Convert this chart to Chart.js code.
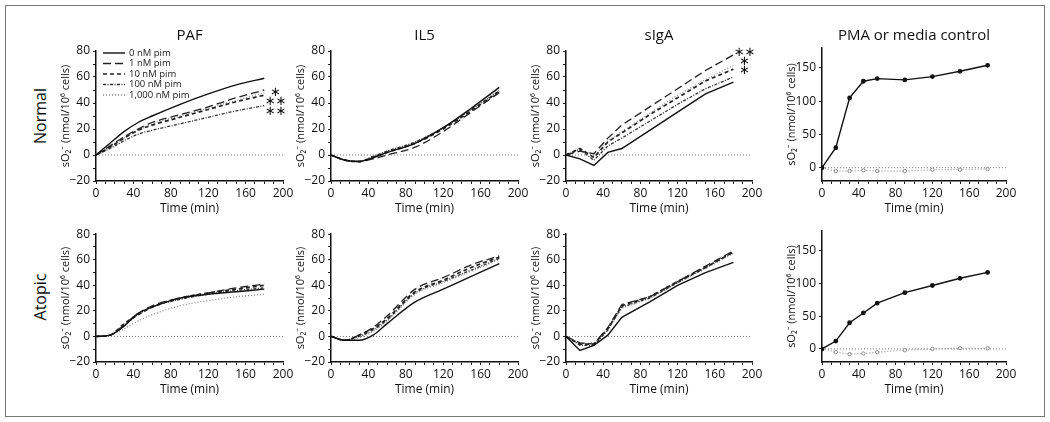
<!DOCTYPE html>
<html>
<head>
<meta charset="utf-8">
<script src="https://cdn.jsdelivr.net/npm/chart.js@4/dist/chart.umd.min.js"></script>
<style>
  html, body { margin: 0; padding: 0; background: #fff; }
  #fig { position: relative; width: 1050px; height: 422px; overflow: hidden; }
  #frame { position: absolute; left: 5px; top: 5px; width: 1040px; height: 412px; border: 1px solid #777; box-sizing: border-box; }
  canvas { position: absolute; }
  .rowlabel { position: absolute; font: 16px 'Open Sans', 'Noto Sans', sans-serif; color: #111;
    transform: translate(-50%, -50%) rotate(-90deg); white-space: nowrap; }
</style>
</head>
<body>
<div id="fig">
  <div id="frame"></div>
  <div class="rowlabel" style="left:40px; top:116px">Normal</div>
  <div class="rowlabel" style="left:40px; top:297px">Atopic</div>
</div>
<script>
// time points (min) shared by every panel
const times = [0, 15, 30, 45, 60, 90, 120, 150, 180];
const doseLabels = ["0 nM pim", "1 nM pim", "10 nM pim", "100 nM pim", "1,000 nM pim"];
const columnTitles = ["PAF", "IL5", "sIgA", "PMA or media control"];

// sO2- (nmol/10^6 cells), one row per dose: 0, 1, 10, 100, 1000 nM
const pafNormal = [
  [0, 9, 18, 25, 30, 39, 47, 54, 59],
  [0, 7, 14, 20, 25, 31, 37, 44, 50],
  [0, 6, 13, 19, 23, 29, 35, 41, 46],
  [0, 5, 11, 16, 19, 24, 29, 34, 38],
  [0, 6, 13, 19, 24, 30, 36, 42, 48]
];
const pafAtopic = [
  [0, 1, 8, 18, 23, 30, 33, 35, 37],
  [0, 1, 9, 18, 24, 30, 34, 38, 41],
  [0, 1, 10, 17, 23, 30, 34, 37, 40],
  [0, 1, 9, 17, 23, 29, 33, 36, 38],
  [0, 1, 6, 12, 17, 24, 28, 31, 33]
];
const il5Normal = [
  [0, -4, -5, -2, 2, 9, 21, 36, 52],
  [0, -4, -5, -3, 0, 6, 18, 33, 48],
  [0, -4, -5, -2, 2, 9, 20, 34, 49],
  [0, -4, -5, -1, 3, 10, 21, 35, 49],
  [0, -4, -5, -1, 3, 10, 21, 35, 50]
];
const il5Atopic = [
  [0, -3, -3, 1, 10, 27, 37, 47, 57],
  [0, -3, 1, 7, 16, 37, 46, 56, 63],
  [0, -3, 1, 6, 14, 35, 44, 54, 62],
  [0, -3, 0, 5, 13, 34, 43, 52, 61],
  [0, -3, -1, 4, 12, 33, 42, 51, 60]
];
const sigaNormal = [
  [0, -3, -8, 2, 5, 19, 33, 47, 56],
  [0, 3, 1, 13, 23, 37, 51, 65, 77],
  [0, 5, -2, 10, 17, 31, 44, 57, 66],
  [0, 4, -4, 7, 13, 26, 39, 51, 60],
  [0, 5, -1, 11, 18, 32, 46, 58, 69]
];
const sigaAtopic = [
  [0, -11, -7, 1, 15, 27, 40, 50, 58],
  [0, -5, -6, 7, 25, 31, 43, 55, 67],
  [0, -6, -6, 6, 24, 31, 43, 54, 66],
  [0, -7, -7, 5, 23, 30, 42, 54, 66],
  [0, -6, -5, 6, 22, 30, 42, 53, 65]
];
const pmaNormal = [0, 30, 105, 130, 134, 132, 137, 145, 154];
const mediaNormal = [0, -5, -5, -4, -5, -5, -3, -3, -2];
const pmaAtopic = [0, 12, 40, 55, 70, 86, 97, 108, 117];
const mediaAtopic = [0, -5, -8, -7, -5, -2, 0, 1, 1];

// significance marks (value on y axis)
const pafNormalStars = [{ text: "∗", y: 48 }, { text: "∗∗", y: 41 }, { text: "∗∗", y: 33 }];
const sigaNormalStars = [{ text: "∗∗", y: 79 }, { text: "∗", y: 72 }, { text: "∗", y: 65 }];

Chart.defaults.font.family = "'Open Sans', 'Noto Sans', sans-serif";
Chart.defaults.font.size = 12;
Chart.defaults.color = "#111";
Chart.defaults.animation = false;

const doseStyles = [
  { color: "#111", width: 1.4, dash: [] },
  { color: "#222", width: 1.3, dash: [8, 4] },
  { color: "#222", width: 1.7, dash: [4, 3] },
  { color: "#333", width: 1.3, dash: [3, 1.5, 1, 1.5] },
  { color: "#888", width: 1.3, dash: [1, 2] }
];

// layout of the 2 x 4 grid
const colAxisX = [96, 331, 566, 822];
const colPlotW = [187, 187, 186, 184];
const rowPlotTop = [51, 232];
const leftW = 41, rightPad = 14, bottomH = 39;

const toPoints = vals => vals.map((v, i) => ({ x: times[i], y: v }));
const minus = v => String(v).replace("-", "\u2212");

const zeroLine = {
  id: "zeroLine",
  beforeDatasetsDraw(chart) {
    const { ctx, chartArea: a, scales: { y } } = chart;
    const py = y.getPixelForValue(0);
    ctx.save();
    ctx.strokeStyle = "#777";
    ctx.lineWidth = 1;
    ctx.setLineDash([1, 2]);
    ctx.beginPath();
    ctx.moveTo(a.left, py);
    ctx.lineTo(a.right, py);
    ctx.stroke();
    ctx.restore();
  }
};

const doseLegend = {
  id: "doseLegend",
  afterDatasetsDraw(chart, args, opts) {
    if (!opts.show) return;
    const { ctx, chartArea: a } = chart;
    ctx.save();
    ctx.font = "9.5px 'Open Sans', 'Noto Sans', sans-serif";
    ctx.fillStyle = "#222";
    ctx.textBaseline = "middle";
    chart.data.datasets.forEach((ds, i) => {
      const y = a.top + 2 + i * 10.5;
      ctx.strokeStyle = ds.borderColor;
      ctx.lineWidth = ds.borderWidth;
      ctx.setLineDash(ds.borderDash);
      ctx.beginPath();
      ctx.moveTo(a.left + 7, y);
      ctx.lineTo(a.left + 29, y);
      ctx.stroke();
      ctx.fillText(ds.label, a.left + 33, y);
    });
    ctx.restore();
  }
};

const stars = {
  id: "stars",
  afterDatasetsDraw(chart, args, opts) {
    if (!opts.items) return;
    const { ctx, scales: { x, y } } = chart;
    ctx.save();
    ctx.font = "13px 'DejaVu Sans', sans-serif";
    ctx.fillStyle = "#111";
    ctx.textAlign = "center";
    ctx.textBaseline = "middle";
    opts.items.forEach(s => ctx.fillText(s.text, x.getPixelForValue(192), y.getPixelForValue(s.y)));
    ctx.restore();
  }
};

function doseDatasets(rows, smooth) {
  return rows.map((vals, i) => ({
    label: doseLabels[i],
    data: toPoints(vals),
    borderColor: doseStyles[i].color,
    borderWidth: doseStyles[i].width,
    borderDash: doseStyles[i].dash,
    pointRadius: 0,
    cubicInterpolationMode: smooth ? "monotone" : "default",
    tension: 0
  }));
}

function pmaDatasets(pma, media) {
  return [
    { label: "PMA", data: toPoints(pma), borderColor: "#111", borderWidth: 1.4, borderDash: [],
      pointRadius: 1.7, pointBackgroundColor: "#111", pointBorderColor: "#111", tension: 0 },
    { label: "Media control", data: toPoints(media), borderColor: "#999", borderWidth: 1.2, borderDash: [1, 2],
      pointRadius: 1.7, pointBackgroundColor: "#fff", pointBorderColor: "#888", pointBorderWidth: 1, tension: 0 }
  ];
}

function makePanel(row, col, datasets, extra) {
  const isPma = col === 3;
  const plotH = isPma ? 133 : 130;
  const plotTop = rowPlotTop[row] - (isPma ? 3 : 0);
  const hasTitle = row === 0;
  const titlePadBottom = isPma ? 3 : 6;
  const topSpace = hasTitle ? 18 + titlePadBottom : 8;
  const w = leftW + colPlotW[col] + rightPad;
  const h = topSpace + plotH + bottomH;

  const canvas = document.createElement("canvas");
  canvas.width = w;
  canvas.height = h;
  canvas.style.left = (colAxisX[col] - leftW) + "px";
  canvas.style.top = (plotTop - topSpace) + "px";
  canvas.style.width = w + "px";
  canvas.style.height = h + "px";
  document.getElementById("fig").appendChild(canvas);

  const yTicks = isPma
    ? { callback: v => minus(v), padding: 3 }
    : { stepSize: 10, autoSkip: false, callback: v => (v % 20 === 0 ? minus(v) : ""), padding: 3 };

  new Chart(canvas.getContext("2d"), {
    type: "line",
    data: { datasets },
    options: {
      responsive: false,
      layout: { padding: { top: hasTitle ? 0 : 8, right: rightPad, left: 0, bottom: 0 } },
      plugins: {
        legend: { display: false },
        tooltip: { enabled: false },
        title: {
          display: hasTitle,
          text: columnTitles[col],
          fullSize: false,
          font: { size: 15, weight: "normal" },
          color: "#111",
          padding: { top: 0, bottom: titlePadBottom }
        },
        doseLegend: { show: !!(extra && extra.legend) },
        stars: { items: extra && extra.stars }
      },
      scales: {
        x: {
          type: "linear",
          min: 0,
          max: 200,
          afterFit: s => { s.height = bottomH; },
          ticks: { stepSize: 10, autoSkip: false, maxRotation: 0, padding: 2,
            callback: v => (v % 40 === 0 ? v : "") },
          grid: { drawOnChartArea: false, tickLength: 3, color: "#222" },
          border: { color: "#111", width: 1.5 },
          title: { display: true, text: "Time (min)", font: { size: 12 }, padding: { top: 0, bottom: 4 } }
        },
        y: {
          min: -20,
          max: isPma ? 180 : 80,
          afterFit: s => { s.width = leftW; },
          afterBuildTicks: isPma ? s => { s.ticks = [0, 50, 100, 150].map(v => ({ value: v })); } : undefined,
          ticks: yTicks,
          grid: { drawOnChartArea: false, tickLength: 3, color: "#222" },
          border: { color: "#111", width: 1.5 },
          title: { display: true, text: "sO\u2082\u207B (nmol/10\u2076 cells)", font: { size: 11 },
            padding: { top: 4, bottom: 0 } }
        }
      }
    },
    plugins: [zeroLine, doseLegend, stars]
  });
}

makePanel(0, 0, doseDatasets(pafNormal, true), { legend: true, stars: pafNormalStars });
makePanel(0, 1, doseDatasets(il5Normal, true));
makePanel(0, 2, doseDatasets(sigaNormal, false), { stars: sigaNormalStars });
makePanel(0, 3, pmaDatasets(pmaNormal, mediaNormal));
makePanel(1, 0, doseDatasets(pafAtopic, true));
makePanel(1, 1, doseDatasets(il5Atopic, true));
makePanel(1, 2, doseDatasets(sigaAtopic, false));
makePanel(1, 3, pmaDatasets(pmaAtopic, mediaAtopic));
</script>
</body>
</html>
